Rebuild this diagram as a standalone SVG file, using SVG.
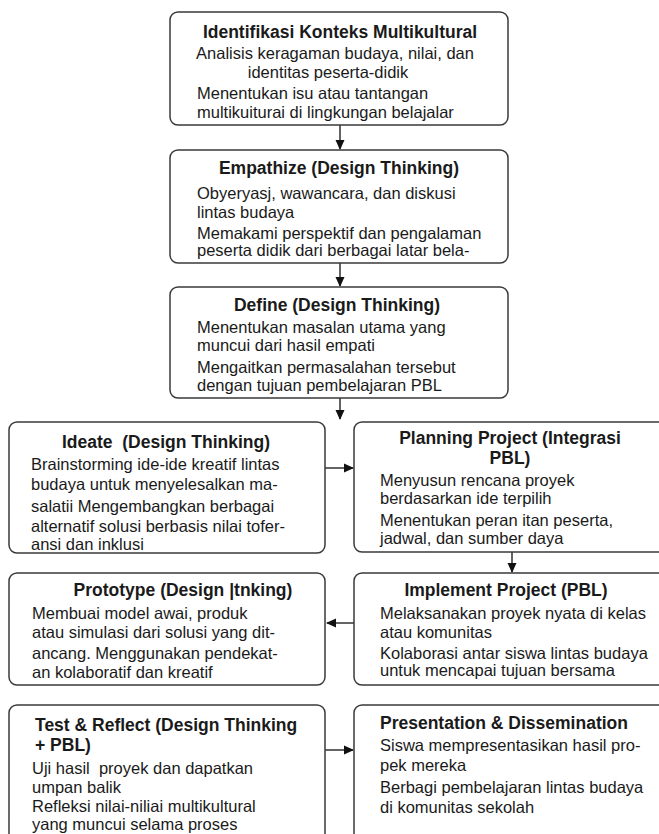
<svg xmlns="http://www.w3.org/2000/svg" width="659" height="834" viewBox="0 0 659 834">
<defs>
<style>
.box{fill:#fff;stroke:#3a3a3a;stroke-width:1.5}
.t{font-family:"Liberation Sans",Arial,sans-serif;font-weight:bold;font-size:17.5px;fill:#1a1a1a}
.b{font-family:"Liberation Sans",Arial,sans-serif;font-size:16.5px;fill:#1a1a1a}
.c{text-anchor:middle}
.con{stroke:#222;stroke-width:1.4;fill:none;marker-end:url(#ah)}
</style>
<marker id="ah" markerUnits="userSpaceOnUse" markerWidth="10" markerHeight="10" viewBox="0 0 10 10" refX="9" refY="5" orient="auto">
<path d="M0,0.5 L10,5 L0,9.5 z" fill="#111"/>
</marker>
</defs>
<rect width="659" height="834" fill="#fff"/>
<g id="connectors">
<line class="con" x1="340" y1="125" x2="340" y2="149"/>
<line class="con" x1="340" y1="263" x2="340" y2="286"/>
<line class="con" x1="340" y1="398" x2="340" y2="419"/>
<line class="con" x1="325" y1="468" x2="353" y2="468"/>
<line class="con" x1="512" y1="552" x2="512" y2="572"/>
<line class="con" x1="354" y1="623" x2="327" y2="623"/>
<line class="con" x1="325" y1="750" x2="353" y2="750"/>
</g>
<g id="n1">
<rect class="box" x="170" y="12" width="338" height="113" rx="8"/>
<text class="t c" x="340" y="38">Identifikasi Konteks Multikultural</text>
<text class="b c" x="335" y="59">Analisis keragaman budaya, nilai, dan</text>
<text class="b c" x="328" y="78">identitas peserta-didik</text>
<text class="b" x="197" y="99">Menentukan isu atau tantangan</text>
<text class="b" x="197" y="118">multikuiturai di lingkungan belajalar</text>
</g>
<g id="n2">
<rect class="box" x="170" y="150" width="338" height="113" rx="8"/>
<text class="t c" x="339" y="174">Empathize (Design Thinking)</text>
<text class="b" x="197" y="199">Obyeryasj, wawancara, dan diskusi</text>
<text class="b" x="197" y="218">lintas budaya</text>
<text class="b" x="197" y="239">Memakami perspektif dan pengalaman</text>
<text class="b" x="197" y="256">peserta didik dari berbagai latar bela-</text>
</g>
<g id="n3">
<rect class="box" x="170" y="287" width="338" height="111" rx="8"/>
<text class="t c" x="337" y="311">Define (Design Thinking)</text>
<text class="b" x="197" y="333">Menentukan masalan utama yang</text>
<text class="b" x="197" y="351">muncui dari hasil empati</text>
<text class="b" x="197" y="373">Mengaitkan permasalahan tersebut</text>
<text class="b" x="197" y="391">dengan tujuan pembelajaran PBL</text>
</g>
<g id="n4">
<rect class="box" x="9" y="422" width="316" height="131" rx="8"/>
<text class="t c" x="166" y="448" xml:space="preserve">Ideate  (Design Thinking)</text>
<text class="b" x="31" y="470">Brainstorming ide-ide kreatif lintas</text>
<text class="b" x="31" y="490">budaya untuk menyelesalkan ma-</text>
<text class="b" x="31" y="512">salatii Mengembangkan berbagai</text>
<text class="b" x="31" y="532">alternatif solusi berbasis nilai tofer-</text>
<text class="b" x="31" y="550">ansi dan inklusi</text>
</g>
<g id="n5">
<rect class="box" x="354" y="422" width="314" height="130" rx="8"/>
<text class="t c" x="510" y="444">Planning Project (Integrasi</text>
<text class="t c" x="510" y="464">PBL)</text>
<text class="b" x="380" y="486">Menyusun rencana proyek</text>
<text class="b" x="380" y="504">berdasarkan ide terpilih</text>
<text class="b" x="380" y="526">Menentukan peran itan peserta,</text>
<text class="b" x="380" y="544">jadwal, dan sumber daya</text>
</g>
<g id="n6">
<rect class="box" x="9" y="573" width="316" height="112" rx="8"/>
<text class="t c" x="183" y="596">Prototype (Design |tnking)</text>
<text class="b" x="32" y="619">Membuai model awai, produk</text>
<text class="b" x="32" y="638">atau simulasi dari solusi yang dit-</text>
<text class="b" x="32" y="659">ancang. Menggunakan pendekat-</text>
<text class="b" x="32" y="678">an kolaboratif dan kreatif</text>
</g>
<g id="n7">
<rect class="box" x="354" y="573" width="314" height="112" rx="8"/>
<text class="t c" x="506" y="596">Implement Project (PBL)</text>
<text class="b" x="380" y="619">Melaksanakan proyek nyata di kelas</text>
<text class="b" x="380" y="638">atau komunitas</text>
<text class="b" x="380" y="659">Kolaborasi antar siswa lintas budaya</text>
<text class="b" x="380" y="676">untuk mencapai tujuan bersama</text>
</g>
<g id="n8">
<rect class="box" x="9" y="705" width="316" height="140" rx="8"/>
<text class="t" x="35" y="731">Test &amp; Reflect (Design Thinking</text>
<text class="t" x="35" y="751">+ PBL)</text>
<text class="b" x="32" y="774" xml:space="preserve">Uji hasil  proyek dan dapatkan</text>
<text class="b" x="32" y="793">umpan balik</text>
<text class="b" x="32" y="812">Refleksi nilai-niliai multikultural</text>
<text class="b" x="32" y="830">yang muncui selama proses</text>
</g>
<g id="n9">
<rect class="box" x="354" y="705" width="314" height="140" rx="8"/>
<text class="t" x="380" y="729">Presentation &amp; Dissemination</text>
<text class="b" x="380" y="751">Siswa mempresentasikan hasil pro-</text>
<text class="b" x="380" y="771">pek mereka</text>
<text class="b" x="380" y="793">Berbagi pembelajaran lintas budaya</text>
<text class="b" x="380" y="813">di komunitas sekolah</text>
</g>
</svg>
